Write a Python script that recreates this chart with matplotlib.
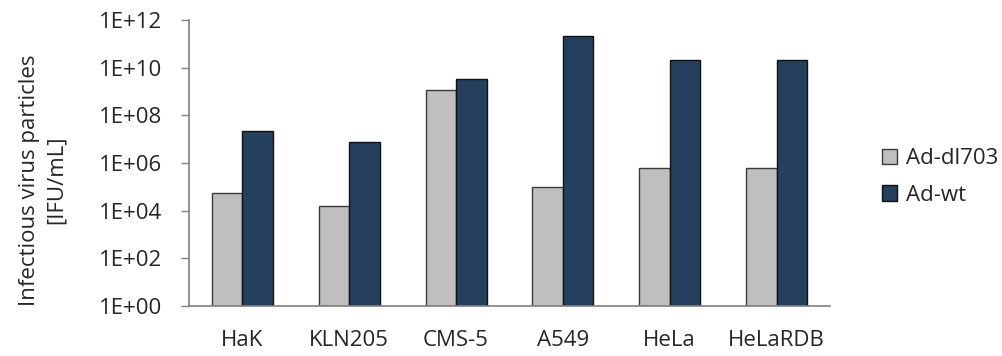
import numpy as np
import matplotlib.pyplot as plt
from matplotlib.ticker import FixedLocator, FuncFormatter, NullLocator

cell_lines = ["HaK", "KLN205", "CMS-5", "A549", "HeLa", "HeLaRDB"]
ad_dl703 = [5.6e4, 1.6e4, 1.15e9, 1.0e5, 6.3e5, 6.3e5]
ad_wt = [2.1e7, 7.6e6, 3.4e9, 2.1e11, 2.2e10, 2.2e10]

plt.rcParams["font.family"] = ["Open Sans", "DejaVu Sans"]
fs = 16
txt = "#262626"

fig = plt.figure(figsize=(10.03, 3.56), dpi=100)
ax = fig.add_axes([0.1884, 0.1404, 0.6391, 0.8034])

x = np.arange(len(cell_lines))
w = 0.2857
ax.bar(x - w / 2, np.array(ad_dl703) - 1, w, bottom=1, color="#BFBFBF",
       edgecolor="#3a3a3a", linewidth=1.0, label="Ad-dl703")
ax.bar(x + w / 2, np.array(ad_wt) - 1, w, bottom=1, color="#253F5F",
       edgecolor="#111111", linewidth=1.0, label="Ad-wt")

ax.set_yscale("log")
ax.set_ylim(1, 1e12)
ax.set_xlim(-0.5, len(cell_lines) - 0.5)
ax.yaxis.set_major_locator(FixedLocator([10.0 ** k for k in range(0, 13, 2)]))
ax.yaxis.set_minor_locator(NullLocator())
ax.yaxis.set_major_formatter(FuncFormatter(lambda v, p: "1E+%02d" % round(np.log10(v))))

ax.set_xticks(x)
ax.set_xticklabels(cell_lines)
ax.tick_params(axis="x", length=0, pad=17, labelsize=fs, colors=txt)
ax.tick_params(axis="y", length=6, width=1, color="#808080", pad=13,
               labelsize=fs, labelcolor=txt)

for s in ["top", "right"]:
    ax.spines[s].set_visible(False)
for s in ["left", "bottom"]:
    ax.spines[s].set_color("#808080")
    ax.spines[s].set_linewidth(1.2)

fig.text(0.043, 0.494, "Infectious virus particles\n[IFU/mL]", rotation=90,
         ha="center", va="center", multialignment="center",
         fontsize=fs, color=txt, linespacing=1.35)

ax.legend(loc="upper left", bbox_to_anchor=(1.081, 0.552), frameon=False,
          borderaxespad=0, borderpad=0, fontsize=fs, handlelength=0.7,
          handleheight=0.7, handletextpad=0.4, labelspacing=0.7,
          labelcolor=txt)

fig.savefig("out.png", dpi=100)
